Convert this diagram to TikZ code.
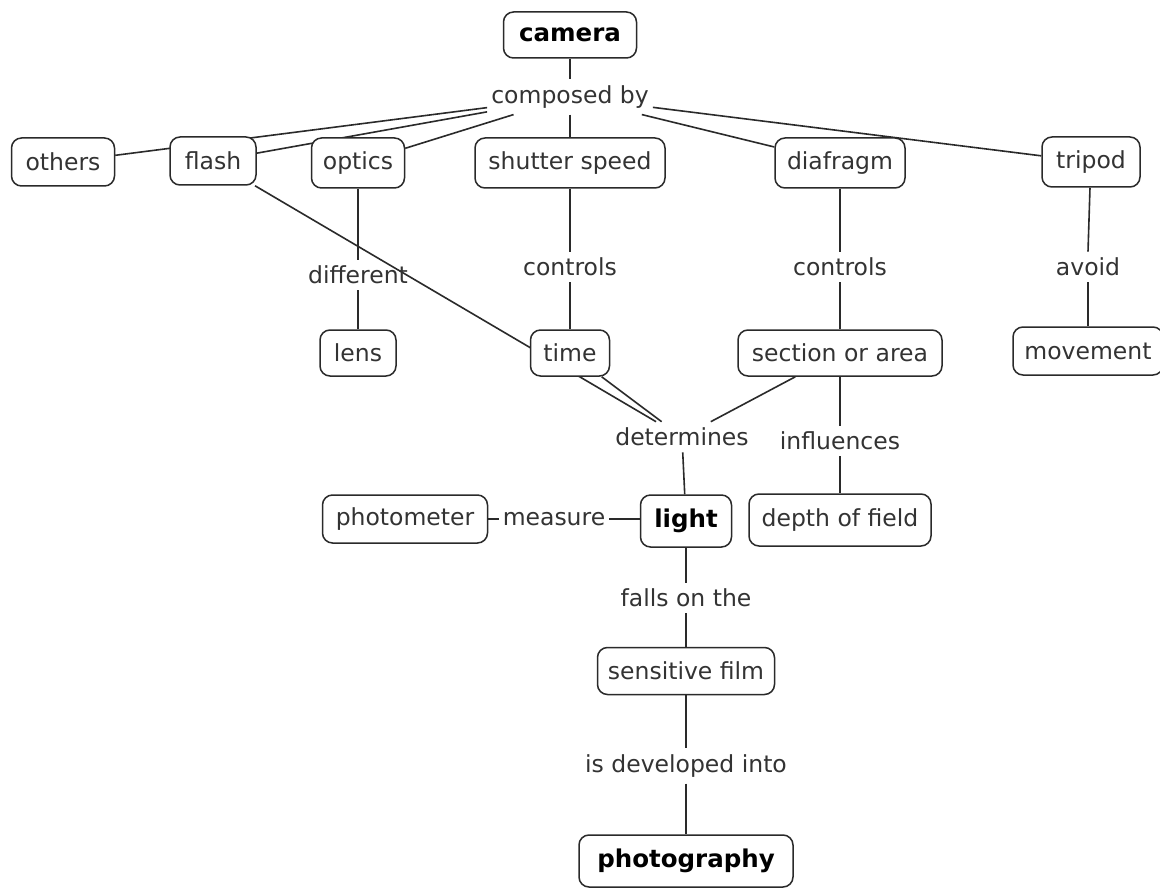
\documentclass[tikz,border=0pt]{standalone}
\usepackage{fontspec}
\setmainfont{DejaVu Sans}
\definecolor{ink}{HTML}{2A2A2A}
\definecolor{txt}{HTML}{333333}
\pgfdeclarelayer{bg}
\pgfsetlayers{bg,main}
\tikzset{
  concept/.style={draw=ink, line width=1.5pt, rounded corners=10pt, fill=white,
    text=txt, font=\fontsize{23.5}{26}\selectfont, inner sep=0pt, minimum height=48pt},
  keyconcept/.style={concept, text=black, font=\fontsize{24.5}{27}\selectfont\bfseries},
  linklabel/.style={text=txt, font=\fontsize{23.5}{26}\selectfont, inner xsep=4pt, inner ysep=6pt},
  link/.style={draw=ink, line width=1.6pt}
}
\begin{document}
\begin{tikzpicture}[x=1pt,y=-1pt]
\useasboundingbox (0,0) rectangle (1160,888);
% concept boxes
\node[keyconcept, minimum width=133pt, minimum height=46pt] (camera) at (570,35) {camera};
\node[concept, minimum width=103pt] (others) at (63,162) {others};
\node[concept, minimum width=86pt] (flash) at (213,161) {flash};
\node[concept, minimum width=93pt, minimum height=50pt] (optics) at (358,163) {optics};
\node[concept, minimum width=190pt, minimum height=50pt] (shutter) at (570,163) {shutter speed};
\node[concept, minimum width=130pt, minimum height=50pt] (diafragm) at (840,163) {diafragm};
\node[concept, minimum width=98pt, minimum height=50pt] (tripod) at (1091,162) {tripod};
\node[concept, minimum width=76pt, minimum height=46pt] (lens) at (358,353) {lens};
\node[concept, minimum width=79pt, minimum height=46pt] (time) at (570,353) {time};
\node[concept, minimum width=204pt, minimum height=46pt] (section) at (840,353) {section or area};
\node[concept, minimum width=150pt] (movement) at (1088,351) {movement};
\node[concept, minimum width=165pt] (photometer) at (405,519) {photometer};
\node[keyconcept, minimum width=91pt, minimum height=52pt] (light) at (686,521) {light};
\node[concept, minimum width=182pt, minimum height=52pt] (depth) at (840,520) {depth of field};
\node[concept, minimum width=177pt, minimum height=47pt] (film) at (686,671) {sensitive film};
\node[keyconcept, minimum width=214pt, minimum height=52pt] (photography) at (686,861) {photography};
% link labels
\node[linklabel] (composed) at (570,97) {composed by};
\node[linklabel] (different) at (358,275) {different};
\node[linklabel] (controlsA) at (570,267) {controls};
\node[linklabel] (controlsB) at (840,267) {controls};
\node[linklabel] (avoid) at (1088,267) {avoid};
\node[linklabel] (determines) at (682,437) {determines};
\node[linklabel] (influences) at (840,441) {influences};
\node[linklabel] (measure) at (554,519) {measure};
\node[linklabel] (falls) at (686,598) {falls on the};
\node[linklabel] (developed) at (686,766) {is developed into};
% connectors (behind boxes)
\begin{pgfonlayer}{bg}
\fill[white] (0,0) rectangle (1160,888);
\draw[link] (camera) -- (composed);
\draw[link] (composed) -- (others);
\draw[link] (composed) -- (flash);
\draw[link] (composed) -- (optics);
\draw[link] (composed.south) -- (shutter.north);
\draw[link] (composed) -- (diafragm);
\draw[link] (composed) -- (tripod);
\draw[link] (optics) -- (different);
\draw[link] (different) -- (lens);
\draw[link] (shutter) -- (controlsA);
\draw[link] (controlsA) -- (time);
\draw[link] (diafragm) -- (controlsB);
\draw[link] (controlsB) -- (section);
\draw[link] (tripod.south -| 1090,0) -- (avoid.north -| 1088,0);
\draw[link] (avoid) -- (movement);
\draw[link] (flash) -- (determines);
\draw[link] (time) -- (determines);
\draw[link] (section) -- (determines);
\draw[link] (determines) -- (light);
\draw[link] (section) -- (influences);
\draw[link] (influences) -- (depth);
\draw[link] (photometer) -- (measure);
\draw[link] (measure.east) -- (measure.east -| light.west);
\draw[link] (light) -- (falls);
\draw[link] (falls) -- (film);
\draw[link] (film) -- (developed);
\draw[link] (developed) -- (photography);
\end{pgfonlayer}
\end{tikzpicture}
\end{document}
